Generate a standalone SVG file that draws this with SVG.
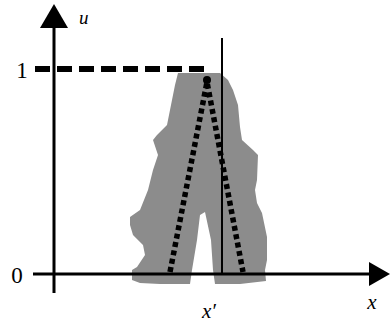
<svg xmlns="http://www.w3.org/2000/svg" width="390" height="327" viewBox="0 0 390 327">
<style>
.axis{stroke:#000;stroke-width:3;fill:none}
.dot{stroke:#000;stroke-width:5.5;fill:none;stroke-dasharray:5 3.5}
</style>
<rect width="390" height="327" fill="#fff"/>
<g id="blob">
<path d="M178,73 L220,73 L228,80 L233,90 L238,105 L240,127 L242,140 L253,150 L258,155 L257,180 L255,190 L257,203 L262,213 L267,237 L267,260 L265,270 L266,281 L240,284 L215,284 L213,270 L211,240 L205,212 L200,215 L197,240 L192,270 L190,284 L160,284 L140,283 L132,280 L132,270 L137,267 L145,255 L143,245 L133,235 L130,225 L130,217 L140,210 L148,190 L153,170 L158,155 L153,140 L157,135 L167,125 L172,100 L175,85 Z" fill="#8c8c8c"/>
</g>
<g id="connectors">
<line class="axis" x1="54" y1="293" x2="54" y2="24"/>
<polygon points="54,4 40,28 68,28" fill="#000"/>
<line class="axis" x1="33" y1="274" x2="372" y2="274"/>
<polygon points="390,274 369,262 369,286" fill="#000"/>
<line x1="35" y1="69" x2="210" y2="69" stroke="#000" stroke-width="6" stroke-dasharray="15 7"/>
<line x1="222" y1="38" x2="222" y2="274" stroke="#000" stroke-width="2"/>
<polyline class="dot" points="170,272 207,82 243,272"/>
<circle cx="207" cy="80" r="4" fill="#000"/>
</g>
<g id="labels" font-family="'Liberation Serif', 'DejaVu Serif', serif" fill="#000">
<text x="79" y="24" font-size="19" font-style="italic">u</text>
<text x="22" y="78" font-size="23" text-anchor="middle">1</text>
<text x="17" y="283" font-size="23" text-anchor="middle">0</text>
<text x="209" y="318" font-size="21" font-style="italic" text-anchor="middle">x′</text>
<text x="372" y="309" font-size="21" font-style="italic" text-anchor="middle">x</text>
</g>
</svg>
